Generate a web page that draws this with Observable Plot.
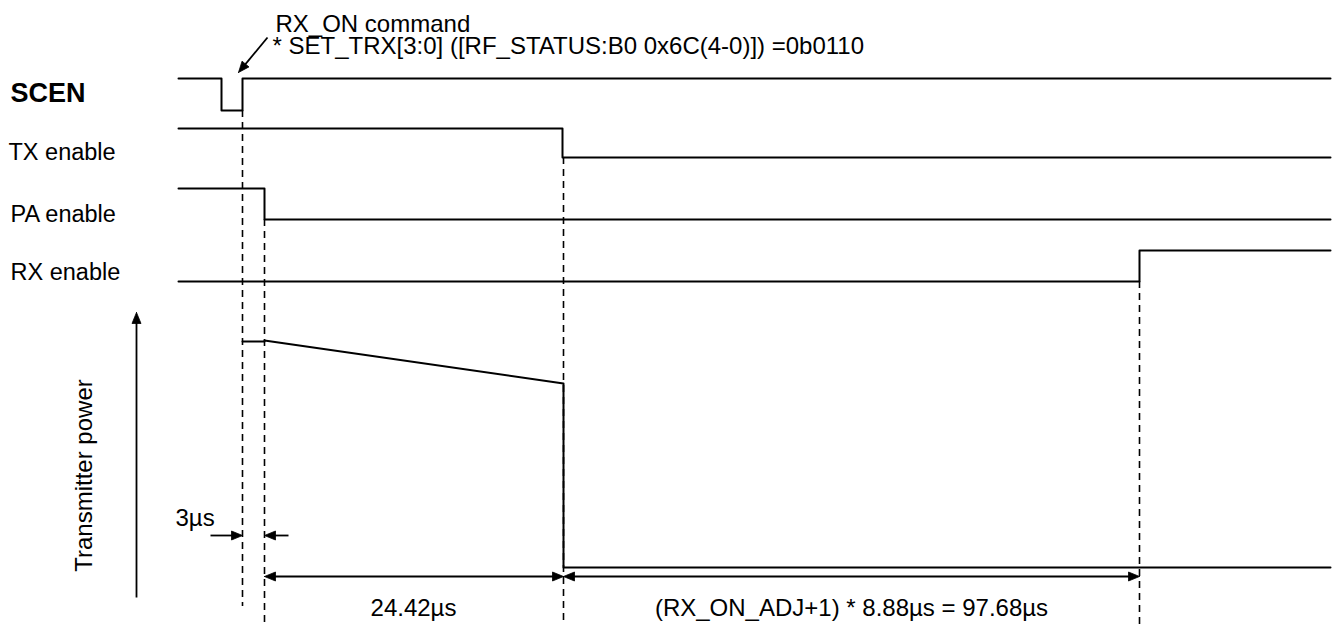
<!DOCTYPE html>
<html><head><meta charset="utf-8">
<script src="https://cdn.jsdelivr.net/npm/d3@7"></script>
<script src="https://cdn.jsdelivr.net/npm/@observablehq/plot@0.6"></script>
<style>body{margin:0;background:#fff}</style>
</head><body><div id="chart"></div>
<script>
// Schematic timing diagram (not to scale). Values are in diagram units:
// horizontal = event position, vertical = signal level position (downwards).
const signalLabels = ["SCEN", "TX enable", "PA enable", "RX enable"];
const signalLabelX = [10, 8, 10, 10];
const signalLabelY = [101, 159, 221, 279];

const scenX = [178, 221, 221, 242, 242, 1330];
const scenY = [78, 78, 110, 110, 78, 78];
const txX = [178, 562, 562, 1330];
const txY = [128, 128, 157, 157];
const paX = [178, 264, 264, 1330];
const paY = [188, 188, 219, 219];
const rxX = [178, 1139, 1139, 1330];
const rxY = [281, 281, 250, 250];
const powerX = [242, 264, 264, 563, 563, 1330];
const powerY = [341, 341, 340, 383, 567, 567];

// dashed event markers
const eventX = [242, 264, 563, 1139];
const eventTop = [110, 219, 157, 281];
const eventBottom = [606, 625, 625, 625];

// arrows: start -> end, heads at "end" or "both"
const arrowX1 = [267, 136, 210, 288, 264, 563];
const arrowY1 = [37, 597, 535, 535, 576, 576];
const arrowX2 = [238, 136, 242, 264, 563, 1139];
const arrowY2 = [72, 312, 535, 535, 576, 576];
const arrowHeads = ["end", "end", "end", "end", "both", "both"];

// annotations
const noteTexts = ["RX_ON command", "* SET_TRX[3:0] ([RF_STATUS:B0 0x6C(4-0)]) =0b0110", "3µs"];
const noteX = [275, 272, 175];
const noteY = [31, 53, 525];
const durationTexts = ["24.42µs", "(RX_ON_ADJ+1) * 8.88µs = 97.68µs"];
const durationX = [413, 851];
const durationY = [615, 615];
const axisLabel = "Transmitter power";

const toPts = (xs, ys, id) => xs.map((x, i) => ({x, y: ys[i], id}));
const waves = [
  ...toPts(scenX, scenY, "scen"), ...toPts(txX, txY, "tx"), ...toPts(paX, paY, "pa"),
  ...toPts(rxX, rxY, "rx"), ...toPts(powerX, powerY, "power")
];
const events = eventX.map((x, i) => ({x, y1: eventTop[i], y2: eventBottom[i]}));

const HL = 11, HW = 4.5;
const heads = [];
const shafts = [];
arrowX1.forEach((x1, i) => {
  const y1 = arrowY1[i], x2 = arrowX2[i], y2 = arrowY2[i];
  const len = Math.hypot(x2 - x1, y2 - y1), ux = (x2 - x1) / len, uy = (y2 - y1) / len;
  const tri = (tx, ty, dx, dy, id) => {
    const bx = tx - HL * dx, by = ty - HL * dy, px = -dy, py = dx;
    heads.push({x: tx, y: ty, id}, {x: bx + HW * px, y: by + HW * py, id}, {x: bx - HW * px, y: by - HW * py, id}, {x: tx, y: ty, id});
  };
  tri(x2, y2, ux, uy, i + "e");
  let sx1 = x1, sy1 = y1;
  if (arrowHeads[i] === "both") { tri(x1, y1, -ux, -uy, i + "s"); sx1 = x1 + ux * (HL - 2); sy1 = y1 + uy * (HL - 2); }
  shafts.push({x1: sx1, y1: sy1, x2: x2 - ux * (HL - 2), y2: y2 - uy * (HL - 2)});
});

const font = "Liberation Sans, Arial, Helvetica, sans-serif";
const notes = noteTexts.map((t, i) => ({t, x: noteX[i], y: noteY[i]}));
const durations = durationTexts.map((t, i) => ({t, x: durationX[i], y: durationY[i]}));
const sigLabels = signalLabels.map((t, i) => ({t, x: signalLabelX[i], y: signalLabelY[i], bold: i === 0}));

const chart = Plot.plot({
  width: 1341, height: 630,
  margin: 0,
  x: {domain: [0, 1341], range: [0, 1341], axis: null},
  y: {domain: [0, 630], range: [0, 630], axis: null},
  style: {background: "#fff", fontFamily: font, color: "#000"},
  marks: [
    Plot.ruleX(events, {x: "x", y1: "y1", y2: "y2", stroke: "#000", strokeWidth: 1.6, strokeDasharray: "7,5"}),
    Plot.line(waves, {x: "x", y: "y", z: "id", stroke: "#000", strokeWidth: 2, curve: "linear"}),
    Plot.link(shafts, {x1: "x1", y1: "y1", x2: "x2", y2: "y2", stroke: "#000", strokeWidth: 1.8}),
    Plot.line(heads, {x: "x", y: "y", z: "id", fill: "#000", stroke: "#000", strokeWidth: 0.8}),
    Plot.text(sigLabels.filter(d => d.bold), {x: "x", y: "y", text: "t", textAnchor: "start", lineAnchor: "bottom", fontSize: 27, fontWeight: "bold", fill: "#000"}),
    Plot.text(sigLabels.filter(d => !d.bold), {x: "x", y: "y", text: "t", textAnchor: "start", lineAnchor: "bottom", fontSize: 23.5, fill: "#000"}),
    Plot.text(notes, {x: "x", y: "y", text: "t", textAnchor: "start", lineAnchor: "bottom", fontSize: 24, fill: "#000"}),
    Plot.text(durations, {x: "x", y: "y", text: "t", textAnchor: "middle", lineAnchor: "bottom", fontSize: 24, fill: "#000"}),
    Plot.text([axisLabel], {x: 84, y: 475, text: d => d, rotate: -90, textAnchor: "middle", lineAnchor: "middle", fontSize: 24, fill: "#000"})
  ]
});
document.getElementById("chart").appendChild(chart);
</script>
</body></html>
